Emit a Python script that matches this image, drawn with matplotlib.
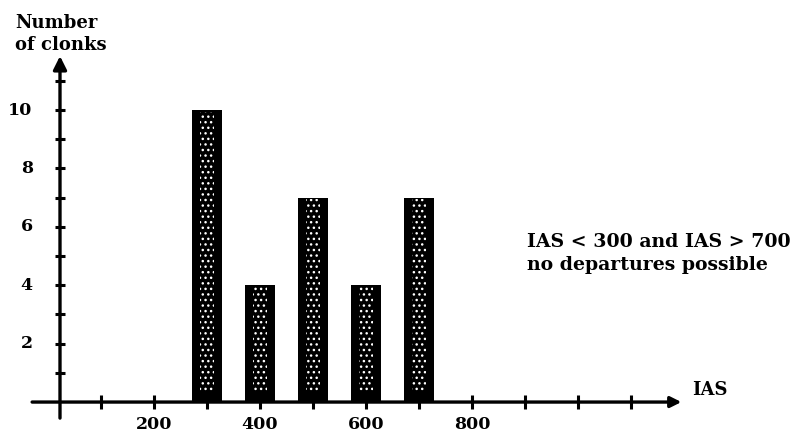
import matplotlib
matplotlib.use("Agg")
import matplotlib.pyplot as plt

# Data
ias_centers = [300, 400, 500, 600, 700]
clonk_counts = [10, 4, 7, 4, 7]
x_tick_values = [100, 200, 300, 400, 500, 600, 700, 800, 900, 1000, 1100]
x_tick_labels = ["200", "400", "600", "800"]
y_tick_values = [1, 2, 3, 4, 5, 6, 7, 8, 9, 10, 11]
y_tick_labels = ["2", "4", "6", "8", "10"]

FONT = "DejaVu Serif"
FS = 12.5

fig = plt.figure(figsize=(7.94, 4.33), dpi=100)
ax = fig.add_axes([0, 0, 1, 1])
ax.set_xlim(-90.6, 1407.5)
ax.set_ylim(-1.06, 13.77)
ax.axis("off")

yaxis_x = 22.6
bar_w = 55

# bars
ax.bar(ias_centers, clonk_counts, width=bar_w, color="black", zorder=2)
inner_tops = [v - 0.35 for v in clonk_counts]
ax.bar(ias_centers, inner_tops, width=bar_w * 0.45, bottom=0.3,
       facecolor="none", edgecolor="white", hatch="...", linewidth=0, zorder=3)

# axes with arrows
ax.annotate("", xy=(1195, 0), xytext=(-30, 0),
            arrowprops=dict(arrowstyle="-|>", lw=2.4, color="black",
                            mutation_scale=16, shrinkA=0, shrinkB=0), zorder=4)
ax.annotate("", xy=(yaxis_x, 11.85), xytext=(yaxis_x, -0.55),
            arrowprops=dict(arrowstyle="-|>", lw=2.4, color="black",
                            mutation_scale=20, shrinkA=0, shrinkB=0), zorder=4)

# ticks
ax.plot(x_tick_values, [0] * len(x_tick_values), linestyle="none", marker="|",
        markersize=10, markeredgewidth=2.2, color="black", zorder=5)
ax.plot([yaxis_x] * len(y_tick_values), y_tick_values, linestyle="none", marker="_",
        markersize=7.5, markeredgewidth=2.2, color="black", zorder=5)

# tick labels
for i, lab in enumerate(x_tick_labels):
    ax.text(200 * (i + 1), -0.78, lab, ha="center", va="center",
            fontsize=FS, fontweight="bold", family=FONT)
for i, lab in enumerate(y_tick_labels):
    ax.text(-29, 2 * (i + 1), lab, ha="right", va="center",
            fontsize=FS, fontweight="bold", family=FONT)

# labels
ax.text(-62, 13.3, "Number\nof clonks", ha="left", va="top", fontsize=13,
        fontweight="bold", family=FONT, linespacing=1.3)
ax.text(1215, 0.41, "IAS", ha="left", va="center", fontsize=13,
        fontweight="bold", family=FONT)
ax.text(904, 5.1, "IAS < 300 and IAS > 700\nno departures possible", ha="left",
        va="center", fontsize=13.6, fontweight="bold", family=FONT, linespacing=1.35)

fig.savefig("out.png", dpi=100)
